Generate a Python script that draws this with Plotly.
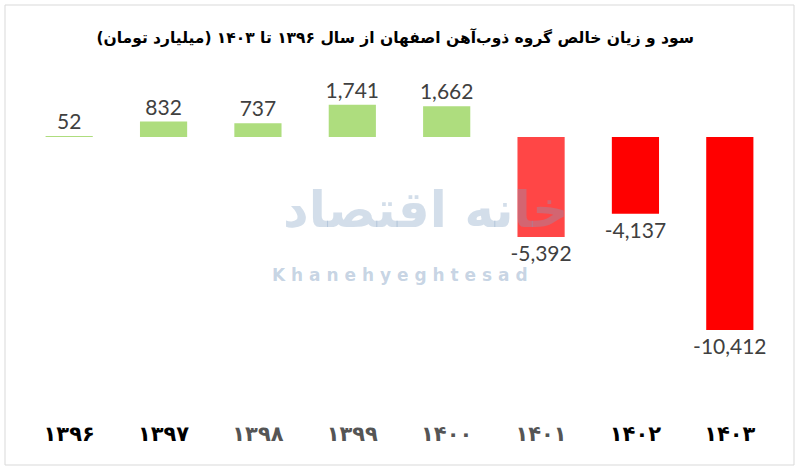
import plotly.graph_objects as go

years = ["1396", "1397", "1398", "1399", "1400", "1401", "1402", "1403"]
year_labels = ["۱۳۹۶", "۱۳۹۷", "۱۳۹۸", "۱۳۹۹", "۱۴۰۰", "۱۴۰۱", "۱۴۰۲", "۱۴۰۳"]
net_profit = [52, 832, 737, 1741, 1662, -5392, -4137, -10412]
bar_colors = ["#aedd7e", "#aedd7e", "#aedd7e", "#aedd7e", "#aedd7e", "#ff4646", "#ff0000", "#ff0000"]
label_colors = ["#000000", "#000000", "#555555", "#555555", "#555555", "#555555", "#000000", "#000000"]

title_text = "سود و زیان خالص گروه ذوب‌آهن اصفهان از سال ۱۳۹۶ تا ۱۴۰۳ (میلیارد تومان)"

W, H = 800, 473
L, R, T, B = 22, 23, 60, 58
plot_h = H - T - B

fig = go.Figure()
fig.add_trace(go.Bar(
    x=years, y=net_profit,
    marker=dict(color=bar_colors, line=dict(width=0)),
    text=[f"{v:,}" for v in net_profit],
    textposition="outside",
    constraintext="none",
    cliponaxis=False,
    textfont=dict(family="Lato, Carlito, sans-serif", size=21, color="#404040"),
    hoverinfo="skip",
))

ticktext = [f"<span style='color:{c}'>{t}</span>" for t, c in zip(year_labels, label_colors)]

fig.update_layout(
    width=W, height=H,
    margin=dict(l=L, r=R, t=T, b=B),
    paper_bgcolor="white", plot_bgcolor="white",
    bargap=0.5,
    showlegend=False,
    title=dict(text=title_text, x=0.494, xanchor="center", y=1 - 38 / H, yanchor="middle",
               font=dict(family="DejaVu Sans", size=15.5, color="#000000", weight="bold")),
    xaxis=dict(
        tickmode="array", tickvals=years, ticktext=ticktext,
        tickfont=dict(family="DejaVu Sans", size=21, color="#000000", weight="bold"),
        showline=False, showgrid=False, zeroline=False, ticks="",
        ticklabelstandoff=4,
    ),
    yaxis=dict(
        range=[-15003, 4155], visible=False, showgrid=False,
        zeroline=True, zerolinecolor="#d9d9d9", zerolinewidth=1,
    ),
)

# Outer frame
def px_x(p):
    return (p - L) / (W - L - R)

def px_y(p):
    return (H - B - p) / plot_h

fig.add_shape(type="rect", xref="paper", yref="paper",
              x0=px_x(5), x1=px_x(794), y0=px_y(465), y1=px_y(5),
              line=dict(color="#d9d9d9", width=1), fillcolor="rgba(0,0,0,0)", layer="below")

# Watermark
fig.add_annotation(xref="paper", yref="paper", x=px_x(425), y=px_y(210),
                   text="خانه اقتصاد", showarrow=False, borderpad=0,
                   font=dict(family="DejaVu Sans", size=50, color="rgba(130,160,195,0.35)", weight="bold"))
fig.add_annotation(xref="paper", yref="paper", x=px_x(400), y=px_y(275),
                   text="K h a n e h y e g h t e s a d", showarrow=False, borderpad=0,
                   font=dict(family="DejaVu Sans", size=17, color="rgba(130,160,195,0.45)", weight="bold"))

fig.write_html("out.html", post_script="document.body.style.margin='0';",
               config={"displayModeBar": False})
